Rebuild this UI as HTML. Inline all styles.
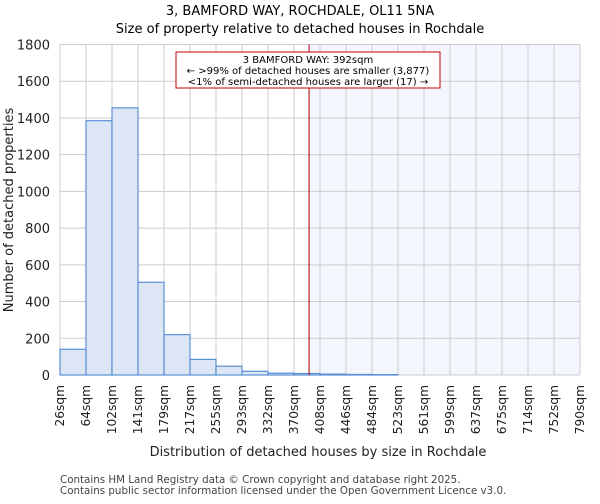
<!DOCTYPE html>
<html><head><meta charset="utf-8"><style>
body{margin:0;background:#fff;font-family:"DejaVu Sans","Liberation Sans",sans-serif}
svg text{font-family:"DejaVu Sans","Liberation Sans",sans-serif}
</style></head><body>
<svg id="c" width="600" height="500" xmlns="http://www.w3.org/2000/svg"></svg>
<script>
const labels=["26sqm","64sqm","102sqm","141sqm","179sqm","217sqm","255sqm","293sqm","332sqm","370sqm","408sqm","446sqm","484sqm","523sqm","561sqm","599sqm","637sqm","675sqm","714sqm","752sqm","790sqm"];
const counts=[140,1385,1455,505,220,85,48,20,10,8,5,3,2,0,0,0,0,0,0,0];
const yTicks=[0,200,400,600,800,1000,1200,1400,1600,1800];
const propertySize=392;
const binEdges=[26,64,102,141,179,217,255,293,332,370,408,446,484,523,561,599,637,675,714,752,790];
const L=60,R=580,T=44.5,B=375,yMax=1800;
const bw=(R-L)/counts.length;
const y=v=>B-v/yMax*(B-T);
const xi=i=>L+i*bw;
function xv(v){for(let i=0;i<binEdges.length-1;i++){if(v<=binEdges[i+1])return xi(i)+(v-binEdges[i])/(binEdges[i+1]-binEdges[i])*bw;}return R;}
const s=document.getElementById('c');const NS='http://www.w3.org/2000/svg';
function el(t,a,txt){const e=document.createElementNS(NS,t);for(const k in a)e.setAttribute(k,a[k]);if(txt!==undefined)e.textContent=txt;s.appendChild(e);return e;}
const px=xv(propertySize);
let e=el('rect',{x:px,y:T,width:R-px,height:B-T,fill:'#f3f6fd'});


for(let i=0;i<=counts.length;i++){e=el('line',{x1:xi(i),x2:xi(i),y1:T,y2:B,stroke:'#cccccc'});}
yTicks.forEach(t=>{e=el('line',{x1:L,x2:R,y1:y(t),y2:y(t),stroke:'#cccccc'});
e=el('text',{x:L-10,y:y(t)+5,'text-anchor':'end','font-size':13,fill:'#222'},t);});
counts.forEach((c,i)=>{e=el('rect',{x:xi(i),y:y(c),width:bw,height:B-y(c),fill:'#dce6f4',stroke:'#5b8fd6','stroke-width':1.2});});
labels.forEach((l,i)=>{const x=xi(i)+4;e=el('text',{x:x,y:B+10,'text-anchor':'end','font-size':12.2,fill:'#222',transform:`rotate(-90 ${x} ${B+10})`},l);});
e=el('line',{x1:px,x2:px,y1:T,y2:B,stroke:'#aa0000','stroke-width':1});
e=el('rect',{x:176,y:52,width:264,height:36,fill:'#fff',stroke:'#cc0000'});
[["3 BAMFORD WAY: 392sqm",63],["← >99% of detached houses are smaller (3,877)",74],["<1% of semi-detached houses are larger (17) →",85]].forEach(a=>{e=el('text',{x:308,y:a[1],'text-anchor':'middle','font-size':10,fill:'#000'},a[0]);});
e=el('text',{x:300,y:15,'text-anchor':'middle','font-size':13,fill:'#000'},'3, BAMFORD WAY, ROCHDALE, OL11 5NA');
e=el('text',{x:300,y:33,'text-anchor':'middle','font-size':13,fill:'#000'},'Size of property relative to detached houses in Rochdale');
e=el('text',{x:318,y:456,'text-anchor':'middle','font-size':13,fill:'#222'},'Distribution of detached houses by size in Rochdale');
e=el('text',{x:13,y:210,'text-anchor':'middle','font-size':13,fill:'#222',transform:'rotate(-90 13 210)'},'Number of detached properties');
e=el('text',{x:60,y:483,'font-size':10.3,fill:'#444'},'Contains HM Land Registry data © Crown copyright and database right 2025.');
e=el('text',{x:60,y:494,'font-size':10.3,fill:'#444'},'Contains public sector information licensed under the Open Government Licence v3.0.');
</script>
</body></html>
